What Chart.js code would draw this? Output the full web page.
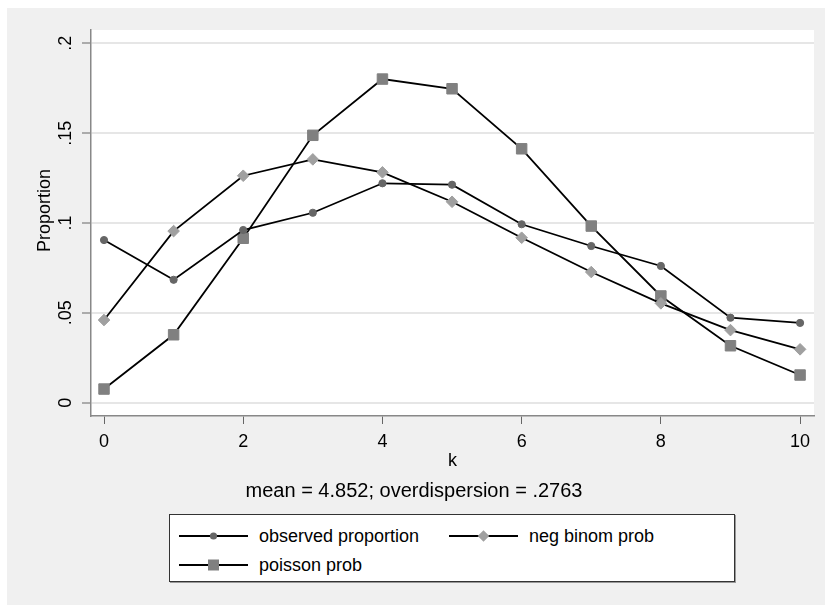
<!DOCTYPE html>
<html>
<head>
<meta charset="utf-8">
<script src="https://cdn.jsdelivr.net/npm/chart.js"></script>
<style>
  body { margin: 0; background: #fff; font-family: "Liberation Sans", Arial, sans-serif; overflow: hidden; }
  #frame { position: absolute; left: 7px; top: 8px; width: 818px; height: 597px; background: #f0f0f0; }
  #chart { position: absolute; left: 0; top: 0; }
  #note { position: absolute; left: 0; width: 814px; top: 472px; text-align: center; font-size: 20px; line-height: 20px; color: #000; }
  #legend { position: absolute; left: 162px; top: 506px; width: 564px; height: 66px; background: #fff;
            border: 1px solid #333; box-shadow: 1px 1px 0 #999; }
  .item { position: absolute; display: flex; align-items: center; height: 16px; font-size: 18px; color: #000; }
  .item svg { margin-right: 11px; }
</style>
</head>
<body>
<div id="frame">
  <canvas id="chart" width="818" height="475"></canvas>
  <div id="note">mean = 4.852; overdispersion = .2763</div>
  <div id="legend"></div>
</div>
<script>
// values
const kValues = [0, 1, 2, 3, 4, 5, 6, 7, 8, 9, 10];
const observed = [.0905, .0684, .0961, .1057, .1221, .1213, .0993, .0872, .0761, .0473, .0444];
const negBinom = [.046, .0955, .1263, .1354, .1282, .1118, .0918, .0727, .0553, .0404, .0297];
const poisson = [.0076, .0378, .0915, .1488, .1801, .1747, .1413, .0983, .0594, .0317, .0154];

const xTicks = [0, 2, 4, 6, 8, 10];
const yTicks = [0, .05, .1, .15, .2];
const yTickLabels = ['0', '.05', '.1', '.15', '.2'];

const seriesNames = ['observed proportion', 'neg binom prob', 'poisson prob'];

const FONT = { family: '"Liberation Sans", Arial, sans-serif', size: 18 };

function toPoints(vals) {
    return vals.map((v, i) => ({ x: kValues[i], y: v }));
}

// white plot region
const plotBg = {
    id: 'plotBg',
    beforeDraw(chart) {
        const a = chart.chartArea;
        chart.ctx.save();
        chart.ctx.fillStyle = '#fff';
        chart.ctx.fillRect(a.left, a.top, a.right - a.left, a.bottom - a.top);
        chart.ctx.restore();
    }
};

const ctx = document.getElementById('chart');

new Chart(ctx, {
    type: 'line',
    data: {
        datasets: [{
            label: seriesNames[0],
            data: toPoints(observed),
            borderColor: '#000',
            borderWidth: 1.8,
            pointStyle: 'circle',
            pointRadius: 3.6,
            pointBackgroundColor: '#666',
            pointBorderColor: '#666',
            pointBorderWidth: 1
        }, {
            label: seriesNames[1],
            data: toPoints(negBinom),
            borderColor: '#000',
            borderWidth: 1.8,
            pointStyle: 'rectRot',
            pointRadius: 5.8,
            pointBackgroundColor: '#a0a0a0',
            pointBorderColor: '#a0a0a0',
            pointBorderWidth: 1
        }, {
            label: seriesNames[2],
            data: toPoints(poisson),
            borderColor: '#000',
            borderWidth: 1.8,
            pointStyle: 'rect',
            pointRadius: 7.4,
            pointBackgroundColor: '#808080',
            pointBorderColor: '#808080',
            pointBorderWidth: 1
        }]
    },
    options: {
        responsive: false,
        animation: false,
        layout: { padding: { top: 22, right: 11, left: 0, bottom: 0 } },
        plugins: { legend: { display: false }, tooltip: { enabled: false } },
        scales: {
            x: {
                type: 'linear',
                min: -0.187,
                max: 10.2,
                afterBuildTicks: s => { s.ticks = xTicks.map(v => ({ value: v })); },
                afterFit: s => { s.height = 475 - 408; },
                ticks: { color: '#000', font: FONT, padding: 7, maxRotation: 0 },
                grid: { drawOnChartArea: false, tickLength: 8, tickColor: '#666', tickWidth: 1 },
                border: { color: '#888', width: 1.5 },
                title: { display: true, text: 'k', color: '#000', font: FONT, padding: { top: 0, bottom: 11 } }
            },
            y: {
                min: -0.0074,
                max: 0.2074,
                afterBuildTicks: s => { s.ticks = yTicks.map(v => ({ value: v })); },
                afterFit: s => { s.width = 84; },
                ticks: {
                    color: '#000', font: FONT, padding: 3,
                    minRotation: 90, maxRotation: 90, crossAlign: 'center',
                    callback: (v, i) => yTickLabels[i]
                },
                grid: { color: '#e6e6e6', lineWidth: 2, tickLength: 9, tickColor: '#666', tickWidth: 1 },
                border: { color: '#888', width: 1.5 },
                // leading spaces nudge the title up a bit, like the original
                title: { display: true, text: '     Proportion', color: '#000', font: FONT, padding: { top: 27, bottom: 0 } }
            }
        }
    },
    plugins: [plotBg]
});

// legend box like the reference, laid out in two columns
const markers = [
    '<circle cx="34.5" cy="8" r="3.6" fill="#666"/>',
    '<polygon points="34.5,2.2 40.3,8 34.5,13.8 28.7,8" fill="#a0a0a0"/>',
    '<rect x="29" y="2.5" width="11" height="11" fill="#808080"/>'
];
const slots = [[9, 13], [279, 13], [9, 42]];
const legend = document.getElementById('legend');
seriesNames.forEach((name, i) => {
    const d = document.createElement('div');
    d.className = 'item';
    d.style.left = slots[i][0] + 'px';
    d.style.top = slots[i][1] + 'px';
    d.innerHTML = '<svg width="69" height="16"><line x1="0" y1="8" x2="69" y2="8" stroke="#000" stroke-width="1.8"/>' +
        markers[i] + '</svg><span>' + name + '</span>';
    legend.appendChild(d);
});
</script>
</body>
</html>
